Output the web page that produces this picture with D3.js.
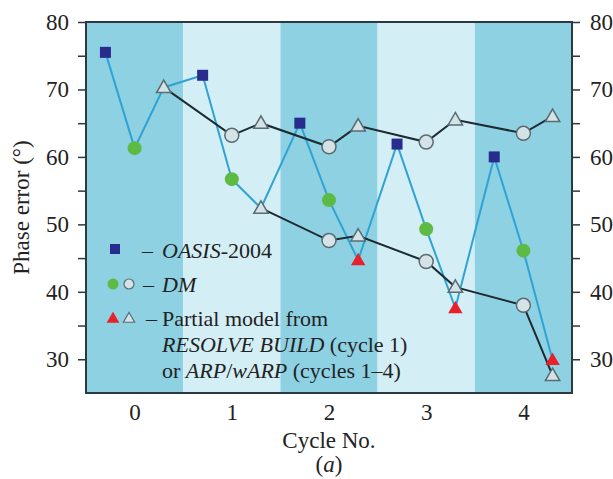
<!DOCTYPE html>
<html>
<head>
<meta charset="utf-8">
<script src="https://cdn.jsdelivr.net/npm/d3@7"></script>
<style>
  body { margin: 0; background: #fff; }
  svg text { font-family: "Liberation Serif", "Times New Roman", serif; fill: #222; }
</style>
</head>
<body>
<svg id="chart" width="613" height="479"></svg>
<script>
var cycles = [0, 1, 2, 3, 4];

// values at cycle - 0.3, cycle, cycle + 0.3
var oasis = [75.5, 72.1, 65.0, 61.9, 60.0];
var dmFilled = [61.3, 56.7, 53.6, 49.3, 46.1];
var partialMain = [70.3, 52.4, 44.7, 37.6, 29.9];
var partialRed = [false, false, true, true, true];

var dmOpenUpper = [null, 63.2, 61.5, 62.2, 63.5];
var partialUpper = [70.3, 65.0, 64.6, 65.5, 66.0];
var dmOpenLower = [null, null, 47.6, 44.5, 38.0];
var partialLower = [null, 52.4, 48.3, 40.7, 27.6];

var yTicks = [30, 40, 50, 60, 70, 80];
var yMinorTicks = [30, 35, 40, 45, 50, 55, 60, 65, 70, 75, 80];

(function() {
var svg = d3.select('#chart'),
    plotLeft = 86, plotRight = 572, plotTop = 22, plotBottom = 393,
    off = 0.3;

var x = d3.scaleLinear().domain([-0.5, 4.5]).range([plotLeft, plotRight]),
    y = d3.scaleLinear().domain([25, 80]).range([plotBottom, plotTop]);

// alternating cycle bands
svg.selectAll('rect.band').data(cycles).enter().append('rect')
  .attr('class', 'band')
  .attr('x', function(c) { return x(c - 0.5); })
  .attr('y', plotTop)
  .attr('width', function(c) { return x(c + 0.5) - x(c - 0.5); })
  .attr('height', plotBottom - plotTop)
  .attr('fill', function(c) { return c % 2 ? '#d4eef5' : '#8dd1e2'; });

function pts(arr, dx) {
  var out = [];
  arr.forEach(function(v, i) {
    if (v !== null) out.push({ x: cycles[i] + dx, y: v, i: i });
  });
  return out;
}

var line = d3.line().x(function(d) { return x(d.x); }).y(function(d) { return y(d.y); });

// blue path: OASIS -> DM -> partial model, cycle by cycle
var bluePath = [];
cycles.forEach(function(c, i) {
  bluePath.push({ x: c - off, y: oasis[i] });
  bluePath.push({ x: c, y: dmFilled[i] });
  bluePath.push({ x: c + off, y: partialMain[i] });
});

function blackPath(dm, part) {
  var out = [];
  cycles.forEach(function(c, i) {
    if (dm[i] !== null) out.push({ x: c, y: dm[i] });
    if (part[i] !== null) out.push({ x: c + off, y: part[i] });
  });
  return out;
}

svg.append('path').datum(bluePath).attr('d', line)
  .attr('fill', 'none').attr('stroke', '#2ea3d4').attr('stroke-width', 2);

[blackPath(dmOpenUpper, partialUpper), blackPath(dmOpenLower, partialLower)].forEach(function(p) {
  svg.append('path').datum(p).attr('d', line)
    .attr('fill', 'none').attr('stroke', '#1d2b31').attr('stroke-width', 2);
});

var tri = d3.symbol().type(d3.symbolTriangle).size(90);

function openCircles(data) {
  svg.append('g').selectAll('circle').data(data).enter().append('circle')
    .attr('cx', function(d) { return x(d.x); })
    .attr('cy', function(d) { return y(d.y); })
    .attr('r', 7)
    .attr('fill', '#d3e3e8').attr('stroke', '#5b6b70').attr('stroke-width', 1.5);
}

function openTriangles(data) {
  svg.append('g').selectAll('path').data(data).enter().append('path')
    .attr('d', tri)
    .attr('transform', function(d) { return 'translate(' + x(d.x) + ',' + (y(d.y) + 1) + ')'; })
    .attr('fill', '#d3e3e8').attr('stroke', '#5b6b70').attr('stroke-width', 1.5);
}

openCircles(pts(dmOpenUpper, 0));
openCircles(pts(dmOpenLower, 0));
openTriangles(pts(partialUpper, off));
openTriangles(pts(partialLower, off));

svg.append('g').selectAll('path')
  .data(pts(partialMain, off).filter(function(d) { return partialRed[d.i]; }))
  .enter().append('path')
  .attr('d', tri)
  .attr('transform', function(d) { return 'translate(' + x(d.x) + ',' + (y(d.y) + 1) + ')'; })
  .attr('fill', '#e8202a');

svg.append('g').selectAll('circle').data(pts(dmFilled, 0)).enter().append('circle')
  .attr('cx', function(d) { return x(d.x); })
  .attr('cy', function(d) { return y(d.y); })
  .attr('r', 7)
  .attr('fill', '#5dbb45');

svg.append('g').selectAll('rect').data(pts(oasis, -off)).enter().append('rect')
  .attr('x', function(d) { return x(d.x) - 5.5; })
  .attr('y', function(d) { return y(d.y) - 5.5; })
  .attr('width', 11).attr('height', 11)
  .attr('fill', '#282c8c');

// frame and axes
svg.append('rect').attr('x', plotLeft).attr('y', plotTop)
  .attr('width', plotRight - plotLeft).attr('height', plotBottom - plotTop)
  .attr('fill', 'none').attr('stroke', '#2b3a40').attr('stroke-width', 2);

function styleAxis(g) {
  g.select('.domain').remove();
  g.selectAll('.tick line').attr('stroke', '#2b3a40').attr('stroke-width', 1.5);
  g.selectAll('.tick text').attr('font-size', 23).attr('fill', '#222')
    .style('font-family', '"Liberation Serif", serif');
}

var leftAxis = svg.append('g').attr('transform', 'translate(' + plotLeft + ',0)')
  .call(d3.axisLeft(y).tickValues(yMinorTicks).tickSize(8).tickPadding(9)
    .tickFormat(function(v) { return yTicks.indexOf(v) >= 0 ? v : ''; }));
styleAxis(leftAxis);

var rightAxis = svg.append('g').attr('transform', 'translate(' + plotRight + ',0)')
  .call(d3.axisRight(y).tickValues(yMinorTicks).tickSize(8).tickPadding(10)
    .tickFormat(function(v) { return yTicks.indexOf(v) >= 0 ? v : ''; }));
styleAxis(rightAxis);

var bottomAxis = svg.append('g').attr('transform', 'translate(0,' + plotBottom + ')')
  .call(d3.axisBottom(x).tickValues(cycles).tickSize(0).tickPadding(11).tickFormat(d3.format('d')));
styleAxis(bottomAxis);

svg.append('text').attr('x', x(2)).attr('y', 448)
  .attr('text-anchor', 'middle').attr('font-size', 23).text('Cycle No.');

svg.append('text').attr('x', x(2)).attr('y', 472)
  .attr('text-anchor', 'middle').attr('font-size', 23)
  .html('(<tspan font-style="italic">a</tspan>)');

svg.append('text').attr('transform', 'translate(29,' + ((plotTop + plotBottom) / 2) + ') rotate(-90)')
  .attr('text-anchor', 'middle').attr('font-size', 23).text('Phase error (°)');

// legend
var lg = svg.append('g');
lg.append('rect').attr('x', 110).attr('y', 244).attr('width', 10).attr('height', 10).attr('fill', '#282c8c');
lg.append('circle').attr('cx', 113).attr('cy', 284).attr('r', 5.5).attr('fill', '#5dbb45');
lg.append('circle').attr('cx', 129).attr('cy', 284).attr('r', 5).attr('fill', '#d3e3e8')
  .attr('stroke', '#5b6b70').attr('stroke-width', 1.2);
lg.append('path').attr('d', d3.symbol().type(d3.symbolTriangle).size(70))
  .attr('transform', 'translate(113,319)').attr('fill', '#e8202a');
lg.append('path').attr('d', d3.symbol().type(d3.symbolTriangle).size(55))
  .attr('transform', 'translate(129,319)').attr('fill', '#d3e3e8')
  .attr('stroke', '#5b6b70').attr('stroke-width', 1.2);

var legendText = [
  { y: 258, dash: 142, html: '<tspan font-style="italic">OASIS</tspan>-2004' },
  { y: 292, dash: 143, html: '<tspan font-style="italic">DM</tspan>' },
  { y: 326, dash: 146, html: 'Partial model from' },
  { y: 352, dash: null, html: '<tspan font-style="italic">RESOLVE BUILD</tspan> (cycle 1)' },
  { y: 378, dash: null, html: 'or <tspan font-style="italic">ARP</tspan>/<tspan font-style="italic">wARP</tspan> (cycles 1–4)' }
];

legendText.forEach(function(t) {
  if (t.dash !== null)
    lg.append('text').attr('x', t.dash).attr('y', t.y).attr('font-size', 22).text('–');
  lg.append('text').attr('x', 162).attr('y', t.y).attr('font-size', 22).html(t.html);
});
})();
</script>
</body>
</html>
